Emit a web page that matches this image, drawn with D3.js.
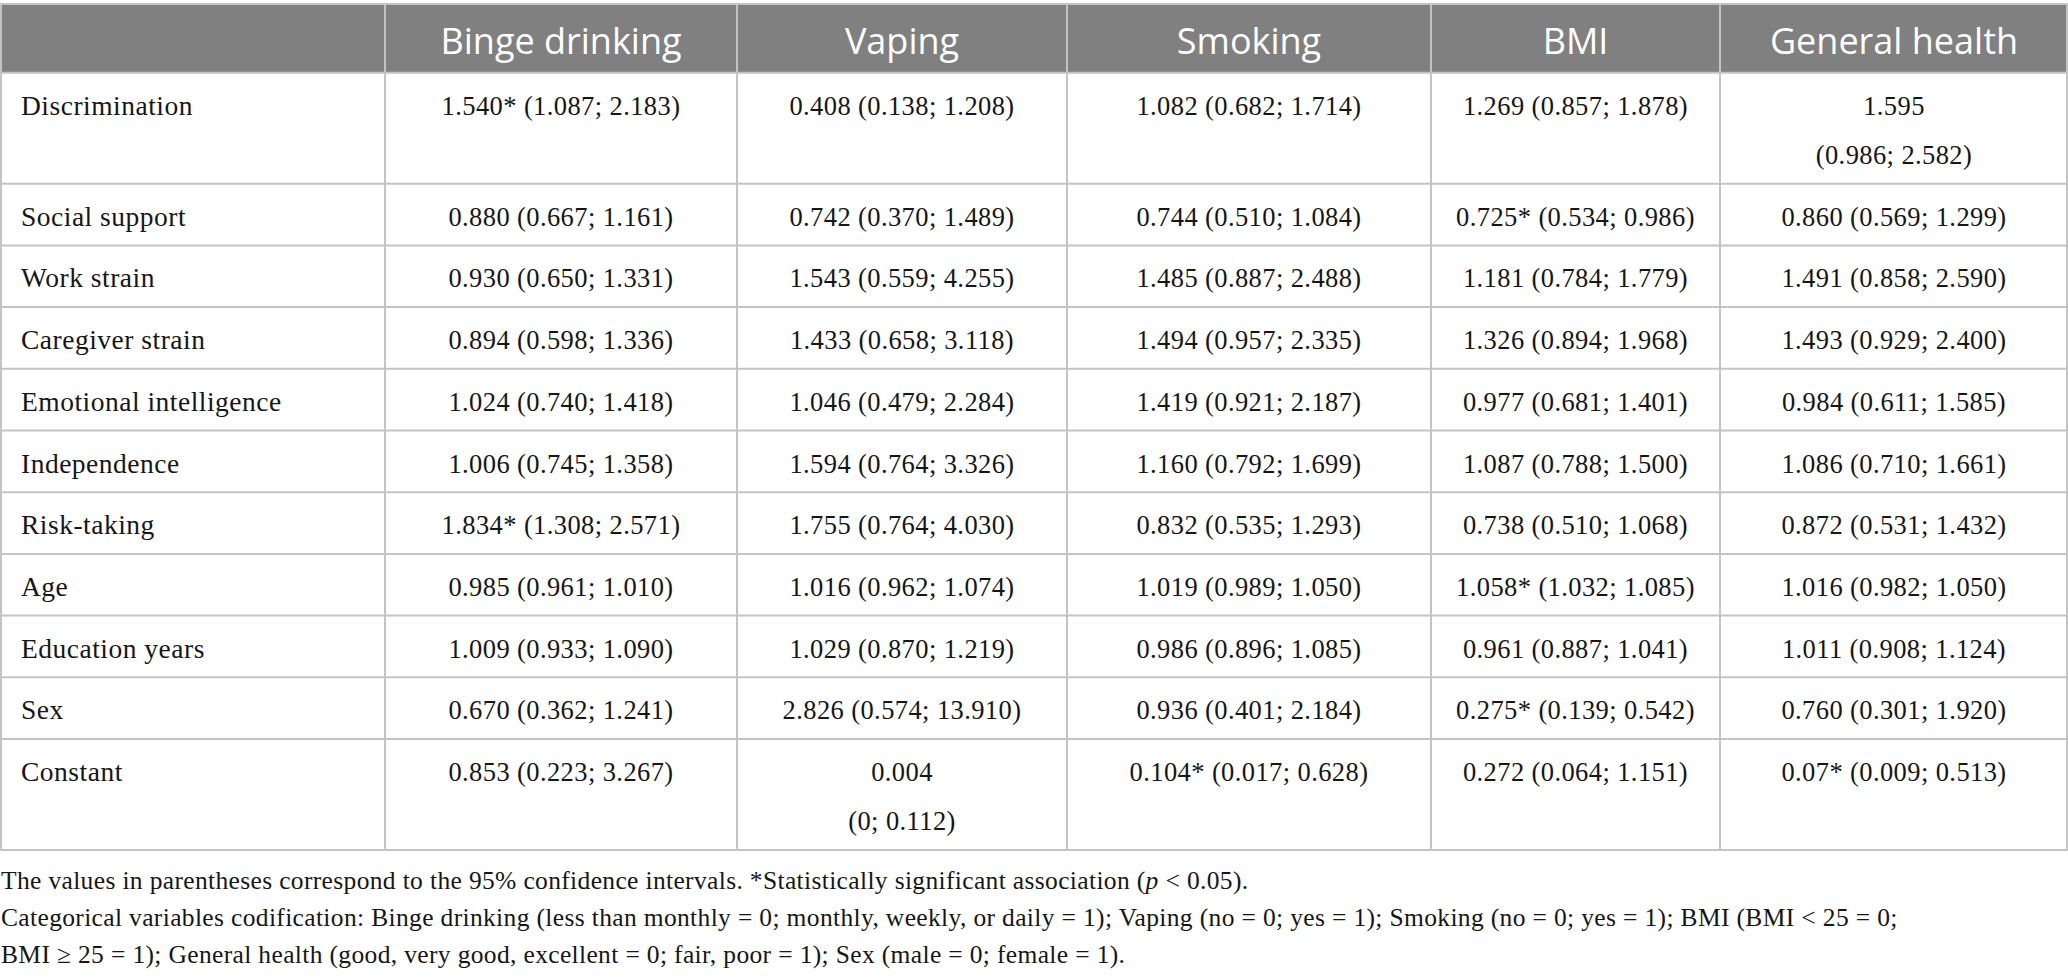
<!DOCTYPE html>
<html>
<head>
<meta charset="utf-8">
<script src="https://cdn.jsdelivr.net/npm/d3@7"></script>
<style>
    body { margin: 0; background: #fff; }
    svg { display: block; }
</style>
</head>
<body>
<svg id="chart"></svg>
<script>
"use strict";

// table content
const outcomes = ["Binge drinking", "Vaping", "Smoking", "BMI", "General health"];
const predictors = ["Discrimination", "Social support", "Work strain", "Caregiver strain",
    "Emotional intelligence", "Independence", "Risk-taking", "Age", "Education years", "Sex", "Constant"];

const bingeDrinking = ["1.540* (1.087; 2.183)", "0.880 (0.667; 1.161)", "0.930 (0.650; 1.331)",
    "0.894 (0.598; 1.336)", "1.024 (0.740; 1.418)", "1.006 (0.745; 1.358)", "1.834* (1.308; 2.571)",
    "0.985 (0.961; 1.010)", "1.009 (0.933; 1.090)", "0.670 (0.362; 1.241)", "0.853 (0.223; 3.267)"];
const vaping = ["0.408 (0.138; 1.208)", "0.742 (0.370; 1.489)", "1.543 (0.559; 4.255)",
    "1.433 (0.658; 3.118)", "1.046 (0.479; 2.284)", "1.594 (0.764; 3.326)", "1.755 (0.764; 4.030)",
    "1.016 (0.962; 1.074)", "1.029 (0.870; 1.219)", "2.826 (0.574; 13.910)", "0.004 (0; 0.112)"];
const smoking = ["1.082 (0.682; 1.714)", "0.744 (0.510; 1.084)", "1.485 (0.887; 2.488)",
    "1.494 (0.957; 2.335)", "1.419 (0.921; 2.187)", "1.160 (0.792; 1.699)", "0.832 (0.535; 1.293)",
    "1.019 (0.989; 1.050)", "0.986 (0.896; 1.085)", "0.936 (0.401; 2.184)", "0.104* (0.017; 0.628)"];
const bmi = ["1.269 (0.857; 1.878)", "0.725* (0.534; 0.986)", "1.181 (0.784; 1.779)",
    "1.326 (0.894; 1.968)", "0.977 (0.681; 1.401)", "1.087 (0.788; 1.500)", "0.738 (0.510; 1.068)",
    "1.058* (1.032; 1.085)", "0.961 (0.887; 1.041)", "0.275* (0.139; 0.542)", "0.272 (0.064; 1.151)"];
const generalHealth = ["1.595 (0.986; 2.582)", "0.860 (0.569; 1.299)", "1.491 (0.858; 2.590)",
    "1.493 (0.929; 2.400)", "0.984 (0.611; 1.585)", "1.086 (0.710; 1.661)", "0.872 (0.531; 1.432)",
    "1.016 (0.982; 1.050)", "1.011 (0.908; 1.124)", "0.760 (0.301; 1.920)", "0.07* (0.009; 0.513)"];

const columns = [bingeDrinking, vaping, smoking, bmi, generalHealth];

// cells that break the estimate and the interval onto two lines
const twoLineCells = [["Discrimination", "General health"], ["Constant", "Vaping"]];

// _x_ marks italic text
const noteLines = [
    "The values in parentheses correspond to the 95% confidence intervals. *Statistically significant association (_p_ < 0.05).",
    "Categorical variables codification: Binge drinking (less than monthly = 0; monthly, weekly, or daily = 1); Vaping (no = 0; yes = 1); Smoking (no = 0; yes = 1); BMI (BMI < 25 = 0;",
    "BMI \u2265 25 = 1); General health (good, very good, excellent = 0; fair, poor = 1); Sex (male = 0; female = 1)."
];

// layout
const width = 2068, height = 980;
const colEdges = [0, 385, 737, 1067, 1431, 1720, 2068];
const tableTop = 4, headerBottom = 72.7;
const rowPad = 11.2, lineStep = 49.3;
const gridColor = "#c4c4c4", headerFill = "#808080", inkColor = "#161616";
const serif = "'Liberation Serif', 'Times New Roman', serif";
const sans = "'Open Sans', 'Noto Sans', sans-serif";

const isTwoLine = (p, o) => twoLineCells.some(c => c[0] === p && c[1] === o);
const cellLines = (p, o, text) => {
    if (!isTwoLine(p, o)) return [text];
    const i = text.indexOf(" ");
    return [text.slice(0, i), text.slice(i + 1)];
};

const rowLines = predictors.map(p => d3.max(outcomes, o => isTwoLine(p, o) ? 2 : 1));
const rowHeights = rowLines.map(n => 2 * rowPad + lineStep * (n - 1) + 39.3);
const rowTops = [headerBottom, ...d3.cumsum(rowHeights).map(v => headerBottom + v)];
const tableBottom = rowTops[rowTops.length - 1];

const x = d3.scaleOrdinal().domain(["label", ...outcomes]).range(colEdges.slice(0, -1));
const colWidth = d3.scaleOrdinal().domain(["label", ...outcomes]).range(d3.pairs(colEdges).map(p => p[1] - p[0]));
const y = d3.scaleOrdinal().domain(predictors).range(rowTops.slice(0, -1));

const svg = d3.select("#chart").attr("width", width).attr("height", height);

// header band
svg.append("rect")
    .attr("x", 0).attr("y", tableTop)
    .attr("width", width).attr("height", headerBottom - tableTop)
    .attr("fill", headerFill);

svg.append("g").selectAll("text")
    .data(outcomes)
    .join("text")
    .attr("x", d => x(d) + colWidth(d) / 2)
    .attr("y", 53.5)
    .attr("text-anchor", "middle")
    .attr("fill", "#fff")
    .style("font-family", sans)
    .style("font-size", "36px")
    .text(d => d);

// horizontal rules
svg.append("g").selectAll("line")
    .data([tableTop, ...rowTops])
    .join("line")
    .attr("x1", 0).attr("x2", width)
    .attr("y1", d => d).attr("y2", d => d)
    .attr("stroke", gridColor)
    .attr("stroke-width", 2);

// vertical rules
svg.append("g").selectAll("line")
    .data([1, ...colEdges.slice(1, -1), width - 1])
    .join("line")
    .attr("x1", d => d).attr("x2", d => d)
    .attr("y1", tableTop).attr("y2", tableBottom)
    .attr("stroke", gridColor)
    .attr("stroke-width", 2);

// row labels
svg.append("g").selectAll("text")
    .data(predictors)
    .join("text")
    .attr("x", 21)
    .attr("y", d => y(d) + rowPad + 30.8)
    .attr("fill", inkColor)
    .style("font-family", serif)
    .style("font-size", "27.5px")
    .style("letter-spacing", "0.5px")
    .text(d => d);

// body cells
const cells = [];
outcomes.forEach((o, j) => predictors.forEach((p, i) => cells.push({p, o, text: columns[j][i]})));

svg.append("g").selectAll("text")
    .data(cells)
    .join("text")
    .attr("text-anchor", "middle")
    .attr("fill", inkColor)
    .style("font-family", serif)
    .style("font-size", "26.5px")
    .style("letter-spacing", "0.4px")
    .each(function (d) {
        d3.select(this).selectAll("tspan")
            .data(cellLines(d.p, d.o, d.text))
            .join("tspan")
            .attr("x", x(d.o) + colWidth(d.o) / 2)
            .attr("y", (t, k) => y(d.p) + rowPad + 30.8 + k * lineStep)
            .text(t => t);
    });

// footnotes
svg.append("g").selectAll("text")
    .data(noteLines)
    .join("text")
    .attr("x", 1)
    .attr("y", (d, i) => 888.5 + i * 37.2)
    .attr("fill", inkColor)
    .style("font-family", serif)
    .style("font-size", "25.5px")
    .style("letter-spacing", "0.35px")
    .each(function (d) {
        d3.select(this).selectAll("tspan")
            .data(d.split("_"))
            .join("tspan")
            .style("font-style", (t, k) => k % 2 ? "italic" : "normal")
            .text(t => t);
    });
</script>
</body>
</html>
